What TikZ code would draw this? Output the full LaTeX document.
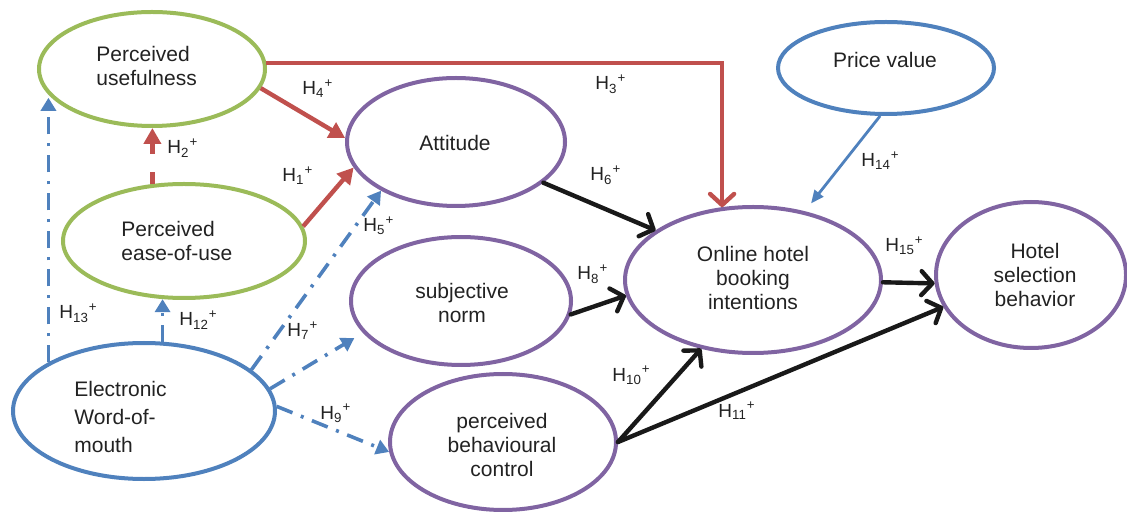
\documentclass[tikz,border=0pt]{standalone}
\usepackage{fontspec}
\setmainfont{Liberation Sans}
\usetikzlibrary{arrows.meta,shapes.geometric}
\definecolor{cgreen}{HTML}{9BBB59}
\definecolor{cpurple}{HTML}{8064A2}
\definecolor{cblue}{HTML}{4F81BD}
\definecolor{cred}{HTML}{C0504D}
\definecolor{ctext}{HTML}{222222}
\newcommand{\hypo}[1]{H\textsubscript{#1}\textsuperscript{+}}
\begin{document}
\begin{tikzpicture}[x=0.5pt,y=-0.5pt,
  ell/.style={draw,ellipse,line width=2pt,inner sep=0pt},
  txt/.style={inner sep=0pt,font=\fontsize{10.5}{12}\selectfont,text=ctext},
  hyp/.style={inner sep=0pt,anchor=base west,font=\fontsize{9.5}{10}\selectfont,text=ctext},
  redarr/.style={cred,line width=2.2pt,-{Triangle[length=8pt,width=8.5pt]}},
  blkarr/.style={black!90,line width=2.2pt,line cap=round,-{Straight Barb[length=5.5pt,width=12pt,round]}},
  bluearr/.style={cblue,line width=1.8pt,dash pattern=on 8.5pt off 4.5pt on 1.5pt off 4.5pt,-{Triangle[length=6.5pt,width=7.5pt]}},
]
\useasboundingbox (0,0) rectangle (1127,512);

% ellipses
\node[ell,draw=cgreen,minimum width=113pt,minimum height=57pt] (pu) at (152,69) {};
\node[ell,draw=cgreen,minimum width=121pt,minimum height=57pt] (peou) at (184,241) {};
\node[ell,draw=cblue,minimum width=131pt,minimum height=68pt] (ewom) at (144,411) {};
\node[ell,draw=cpurple,minimum width=109pt,minimum height=64pt] (att) at (456,142) {};
\node[ell,draw=cpurple,minimum width=110pt,minimum height=64pt] (sn) at (461,301) {};
\node[ell,draw=cpurple,minimum width=113pt,minimum height=68pt] (pbc) at (503,442) {};
\node[ell,draw=cpurple,minimum width=128pt,minimum height=73pt] (ohbi) at (753,280) {};
\node[ell,draw=cblue,minimum width=108pt,minimum height=46pt] (pv) at (886,68) {};
\node[ell,draw=cpurple,minimum width=95pt,minimum height=73pt] (hsb) at (1031,275) {};

% texts
\node[txt,align=left,anchor=west] (pu-t) at (96,65.5) {Perceived\\usefulness};
\node[txt,align=left,anchor=west] (peou-t) at (121,241) {Perceived\\ease-of-use};
\node[txt,align=left,anchor=west,font=\fontsize{10.5}{14}\selectfont] (ewom-t) at (74,417) {Electronic\\Word-of-\\mouth};
\node[txt] (att-t) at (455,142.5) {Attitude};
\node[txt,align=center] (sn-t) at (462,303) {subjective\\norm};
\node[txt,align=center] (pbc-t) at (502,445) {perceived\\behavioural\\control};
\node[txt,align=center] (ohbi-t) at (753,277.5) {Online hotel\\booking\\intentions};
\node[txt,align=center] (hsb-t) at (1035,275) {Hotel\\selection\\behavior};
\node[txt] (pv-t) at (885,60.5) {Price value};

% red connectors
\draw[redarr] (pu.-10) -- (att.178);
\draw[redarr] (peou.7) -- (att.-166);
\draw[redarr,dash pattern=on 6pt off 9pt] (peou.119) -- (peou.119 |- pu.south);
\draw[cred,line width=2.2pt,-{Straight Barb[length=5.5pt,width=12pt,round]}] (pu.3) -| (ohbi.113);

% blue dash-dot connectors
\draw[bluearr] (ewom.153) -- (ewom.153 |- pu.-164);
\draw[bluearr] (ewom.75) -- (ewom.75 |- peou.-110);
\draw[bluearr] (ewom.21) -- (att.-147);
\draw[bluearr,shorten >=5pt] (ewom.10) -- (sn.-162);
\draw[bluearr] (ewom.2) -- (pbc.-175);
\draw[cblue,line width=1.4pt,-{Triangle[length=6.5pt,width=5.5pt]},shorten >=5pt] (pv.-97) -- (ohbi.53);

% black connectors
\draw[blkarr] (att.-25) -- (ohbi.153);
\draw[blkarr] (sn.-7) -- (ohbi.-173);
\draw[blkarr] (pbc.0) -- (ohbi.-127);
\draw[blkarr] (pbc.0) -- (hsb.-160);
\draw[blkarr] (ohbi.-1) -- (hsb.-175);

% hypothesis labels
\node[hyp] (h1) at (282,182) {\hypo{1}};
\node[hyp] (h2) at (167,154) {\hypo{2}};
\node[hyp] (h3) at (595,90) {\hypo{3}};
\node[hyp] (h4) at (302,95) {\hypo{4}};
\node[hyp] (h5) at (363,232) {\hypo{5}};
\node[hyp] (h6) at (590,181) {\hypo{6}};
\node[hyp] (h7) at (287,337) {\hypo{7}};
\node[hyp] (h8) at (577,280) {\hypo{8}};
\node[hyp] (h9) at (320,419) {\hypo{9}};
\node[hyp] (h10) at (612,381) {\hypo{10}};
\node[hyp] (h11) at (718,417) {\hypo{11}};
\node[hyp] (h12) at (179,326) {\hypo{12}};
\node[hyp] (h13) at (59,319) {\hypo{13}};
\node[hyp] (h14) at (861,167) {\hypo{14}};
\node[hyp] (h15) at (885,252) {\hypo{15}};
\end{tikzpicture}
\end{document}
